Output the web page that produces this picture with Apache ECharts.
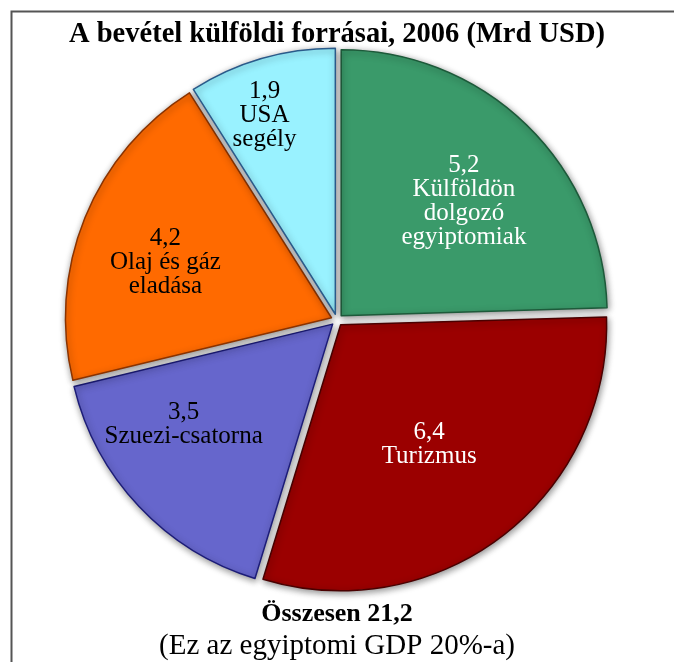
<!DOCTYPE html>
<html>
<head>
<meta charset="utf-8">
<script src="https://cdn.jsdelivr.net/npm/echarts@6/dist/echarts.min.js"></script>
<style>
  html, body { margin: 0; padding: 0; background: #fff; }
  #chart { width: 674px; height: 662px; }
</style>
</head>
<body>
<div id="chart"></div>
<script>
// szeletek az óramutató járása szerint, felülről indulva
const categories = ['Külföldön\ndolgozó\negyiptomiak', 'Turizmus', 'Szuezi-csatorna', 'Olaj és gáz\neladása', 'USA\nsegély'];
const values = [5.2, 6.4, 3.5, 4.2, 1.9];

const sliceColors = ['#3a9a6a', '#9b0000', '#6666cc', '#ff6a00', '#99f2ff'];
const borderColors = ['#1d5a3a', '#4a0000', '#1c1c78', '#8a3300', '#2a5a8a'];
const labelColors = ['#fff', '#fff', '#000', '#000', '#000'];
// felirat eltolás a belső alapponthoz képest
const labelDx = [28, 6, -50, -40, -33];
const labelDy = [-17, 12, 7, -4, -68];

const fmt = v => v.toFixed(1).replace('.', ',');
const total = values.reduce((a, b) => a + b, 0);

const chart = echarts.init(document.getElementById('chart'));
chart.setOption({
  animation: false,
  title: [
    {
      text: 'A bevétel külföldi forrásai, 2006 (Mrd USD)',
      left: 'center', top: 15,
      textStyle: { fontFamily: 'Liberation Serif', fontWeight: 'bold', fontSize: 28.5, color: '#000' }
    },
    {
      text: 'Összesen ' + fmt(total),
      left: 'center', top: 596,
      textStyle: { fontFamily: 'Liberation Serif', fontWeight: 'bold', fontSize: 26, color: '#000' }
    },
    {
      text: '(Ez az egyiptomi GDP 20%-a)',
      left: 'center', top: 627,
      textStyle: { fontFamily: 'Liberation Serif', fontWeight: 'normal', fontSize: 29, color: '#000' }
    }
  ],
  graphic: [{
    type: 'polyline',
    shape: { points: [[11.5, 700], [11.5, 11.5], [700, 11.5]] },
    style: { fill: 'none', stroke: '#555', lineWidth: 2 },
    silent: true
  }],
  series: [{
    type: 'pie',
    center: [337, 320],
    radius: [0, 266],
    startAngle: 90,
    clockwise: true,
    selectedMode: 'multiple',
    selectedOffset: 6,
    emphasis: { disabled: true },
    label: {
      position: 'inner',
      fontFamily: 'Liberation Serif',
      fontSize: 25,
      lineHeight: 24,
      align: 'center',
      formatter: p => fmt(p.value) + '\n' + p.name
    },
    labelLine: { show: false },
    labelLayout: p => ({ dx: labelDx[p.dataIndex], dy: labelDy[p.dataIndex] }),
    data: values.map((v, i) => ({
      value: v,
      name: categories[i],
      selected: true,
      itemStyle: {
        color: sliceColors[i],
        borderColor: borderColors[i],
        borderWidth: 1.5,
        shadowBlur: 7,
        shadowColor: 'rgba(0,0,0,0.45)',
        shadowOffsetX: 1,
        shadowOffsetY: 2
      },
      select: { itemStyle: { color: sliceColors[i], borderColor: borderColors[i] } },
      label: { color: labelColors[i] }
    }))
  }]
});
</script>
</body>
</html>
